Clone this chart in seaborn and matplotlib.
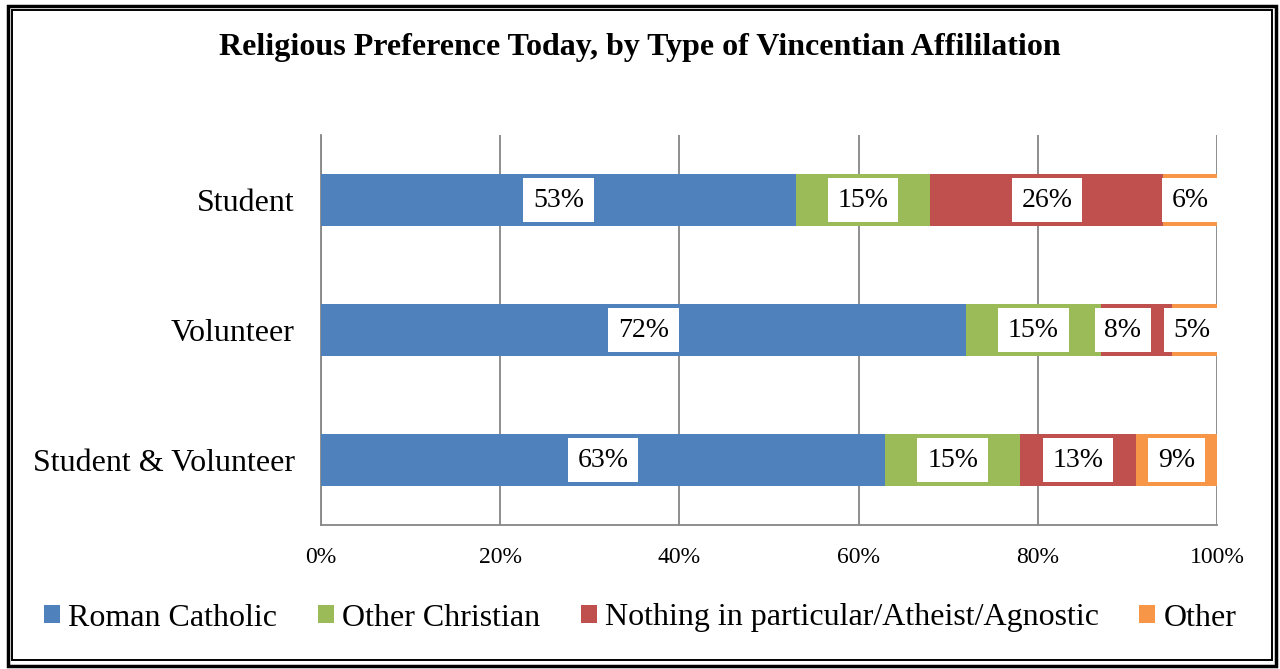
import pandas as pd
import matplotlib.pyplot as plt
import seaborn as sns
from matplotlib.patches import Patch, Rectangle

# Datos del gráfico
grupos = ['Student', 'Volunteer', 'Student & Volunteer']
series = ['Roman Catholic', 'Other Christian',
          'Nothing in particular/Atheist/Agnostic', 'Other']
roman_catholic = [53, 72, 63]
other_christian = [15, 15, 15]
nothing = [26, 8, 13]
other = [6, 5, 9]
colores = ['#4F81BD', '#9BBB59', '#C0504D', '#F79646']

df = pd.DataFrame({'Grupo': grupos,
                   series[0]: roman_catholic,
                   series[1]: other_christian,
                   series[2]: nothing,
                   series[3]: other})

# Acumulados para apilar las barras
acum = df[series].cumsum(axis=1)

sns.set_style('white')
plt.rcParams['font.family'] = ['Liberation Serif', 'DejaVu Serif']
plt.rcParams['text.color'] = 'black'
plt.rcParams['xtick.labelcolor'] = 'black'
plt.rcParams['ytick.labelcolor'] = 'black'

fig = plt.figure(figsize=(12.8, 6.69), dpi=100)
ax = fig.add_axes([321 / 1280, 1 - 525 / 669, 896 / 1280, 390 / 669])

# Dibujar de atrás hacia adelante (acumulado más grande primero)
for serie, color in reversed(list(zip(series, colores))):
    sns.barplot(x=acum[serie], y=df['Grupo'], order=grupos, color=color,
                width=0.4, saturation=1, orient='h', ax=ax, zorder=3,
                linewidth=0)

# Etiquetas de datos con caja blanca (pequeños ajustes para que no se pisen)
ajustes = {('Volunteer', series[2]): -1.5, ('Volunteer', series[3]): -0.3}
for i, grupo in enumerate(grupos):
    inicio = 0
    for serie in series:
        valor = df.loc[i, serie]
        x = inicio + valor / 2 + ajustes.get((grupo, serie), 0)
        ax.text(x, i, f'{valor}%', ha='center', va='center',
                fontsize=20, zorder=5,
                bbox=dict(facecolor='white', edgecolor='none', pad=7))
        inicio += valor

# Ejes
ax.set_xlim(0, 100)
ax.set_ylim(2.5, -0.5)
ax.set_xticks(range(0, 101, 20))
ax.set_xticklabels([f'{t}%' for t in range(0, 101, 20)], fontsize=17)
ax.set_xlabel('')
ax.set_ylabel('')
ax.tick_params(axis='y', which='major', length=0, labelsize=23, pad=19)
ax.set_yticks([-0.5, 0.5, 1.5, 2.5], minor=True)
ax.tick_params(axis='y', which='minor', length=6, color='#868686', width=1.3)
ax.tick_params(axis='x', length=6, color='#868686', width=1.3, pad=10)
ax.grid(axis='x', color='#868686', linewidth=1.3, zorder=0)
ax.set_axisbelow(True)
for lado in ['top', 'right']:
    ax.spines[lado].set_visible(False)
for lado in ['left', 'bottom']:
    ax.spines[lado].set_color('#868686')
    ax.spines[lado].set_linewidth(1.3)

# Título
fig.text(0.5, 1 - 48 / 669, 'Religious Preference Today, by Type of Vincentian Affililation',
         ha='center', va='center', fontsize=23, fontweight='bold')

# Leyenda
handles = [Patch(facecolor=c, edgecolor='none') for c in colores]
fig.legend(handles, series, loc='center', bbox_to_anchor=(0.5, 1 - 618 / 669),
           ncol=4, frameon=False, fontsize=23, handlelength=0.5,
           handleheight=0.5, handletextpad=0.25, columnspacing=1.28)

# Marco doble
fig.patches.append(Rectangle((7.5 / 1280, 1 - 665.5 / 669), 1268.5 / 1280, 660 / 669,
                             transform=fig.transFigure, fill=False,
                             edgecolor='black', linewidth=2.5))
fig.patches.append(Rectangle((12 / 1280, 1 - 660 / 669), 1260 / 1280, 650 / 669,
                             transform=fig.transFigure, fill=False,
                             edgecolor='black', linewidth=1.4))

fig.savefig('out.png', dpi=100)
